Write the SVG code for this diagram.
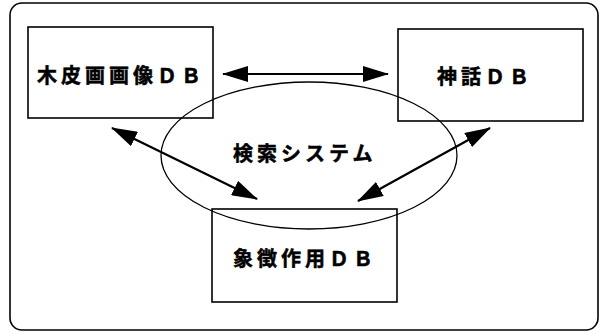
<svg xmlns="http://www.w3.org/2000/svg" width="605" height="334" viewBox="0 0 605 334">
<style>
.box{fill:none;stroke:#000;stroke-width:1.6}
.lbl{font-family:"Liberation Sans","Noto Sans CJK JP",sans-serif;font-size:20px;font-weight:bold;letter-spacing:4px;fill:#000;stroke:#000;stroke-width:0.5}
.arr{stroke:#000;stroke-width:2.2;fill:none;marker-start:url(#ah);marker-end:url(#ah)}
</style>
<defs>
<marker id="ah" markerUnits="userSpaceOnUse" markerWidth="26" markerHeight="16" viewBox="0 0 26 16" refX="25" refY="8" orient="auto-start-reverse">
<path d="M0,0 L26,8 L0,16 Z" fill="#000"/>
</marker>
</defs>
<rect x="0" y="0" width="605" height="334" fill="#fff"/>
<rect x="10" y="3" width="588" height="327" rx="12" ry="12" fill="none" stroke="#000" stroke-width="1.6"/>
<g id="connectors">
<line class="arr" x1="223" y1="74" x2="388" y2="74"/>
<line class="arr" x1="112" y1="128" x2="257" y2="199"/>
<line class="arr" x1="490" y1="128" x2="358" y2="201"/>
</g>
<g id="node-mokuhi">
<rect class="box" x="28" y="27" width="185" height="91"/>
<text class="lbl" x="37" y="83">木皮画画像ＤＢ</text>
</g>
<g id="node-shinwa">
<rect class="box" x="398" y="29" width="185" height="92"/>
<text class="lbl" x="437" y="84">神話ＤＢ</text>
</g>
<g id="node-shocho">
<rect class="box" x="212" y="209" width="185" height="93"/>
<text class="lbl" x="233" y="266">象徴作用ＤＢ</text>
</g>
<g id="node-search">
<ellipse cx="309" cy="155.5" rx="148" ry="73.5" fill="none" stroke="#000" stroke-width="1.3"/>
<text class="lbl" x="233" y="161">検索システム</text>
</g>
</svg>
